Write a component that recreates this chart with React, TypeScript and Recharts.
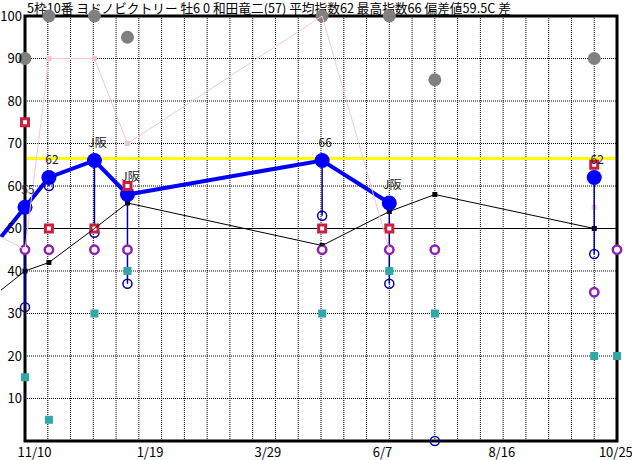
import {
  ComposedChart,
  Line,
  Scatter,
  XAxis,
  YAxis,
  ReferenceLine,
  ReferenceArea,
  ErrorBar,
  LabelList,
} from 'recharts';

const TITLE = '5枠10番 ヨドノビクトリー 牡6 0 和田竜二(57) 平均指数62 最高指数66 偏差値59.5C 差';
const FONT = "'Noto Sans CJK JP', 'Noto Sans', sans-serif";

// race positions on the x axis, in grid columns (one column ~ two weeks)
const raceX = [0, 1.05, 3.05, 4.5, 13.05, 16, 18, 25, 26];

// 指数 (big blue dots) and the text above each one
const indexValues = [55, 62, 66, 58, 66, 56, null, 62, null];
const indexLabels = ['55', '62', 'J阪', 'J阪', '66', 'J阪', null, '62', null];
// bottom of the thin blue bar (open blue circles)
const lowValues = [31.5, 60, 49, 37, 53, 37, 0, 44, null];
const grayValues = [90, 100, 100, 95, 100, 100, 85, 90, null];
const redValues = [75, 50, 50, 60, 50, 50, null, 65, null];
const purpleValues = [45, 45, 45, 45, 45, 45, 45, 35, 45];
const tealValues = [15, 5, 30, 40, 30, 40, 30, 20, 20];
const blackValues = [40, 42, 50, 56, 46, 54, 58, 50, null];
const pinkValues = [45, 90, 90, 70, 100, 45, null, 55, null];

// lines come in from the previous race at the left edge
const EDGE_X = -1.054;
const edgeBlue = 48;
const edgeBlack = 35.5;
const edgePink = 48;

const X_MAX = 26;
const gridX = Array.from({ length: X_MAX - 1 }, (_, i) => i + 1);
const gridY = [10, 20, 30, 40, 60, 70, 80, 90];
const dateTickX = [0.42, 5.49, 10.67, 15.7, 20.94, 25.95];
const dateLabels = ['11/10', '1/19', '3/29', '6/7', '8/16', '10/25'];
const yTicks = [10, 20, 30, 40, 50, 60, 70, 80, 90, 100];
const BASE_LINE = 50;
const TOP_LINE = 66.5;

type Pt = { x: number; y: number | null; edge?: boolean };

const points = (vals: (number | null)[]): Pt[] =>
  raceX.map((x, i) => ({ x, y: vals[i] })).filter((p) => p.y != null);

const withEdge = (edge: number, vals: (number | null)[]): Pt[] => [
  { x: EDGE_X, y: edge, edge: true },
  ...raceX.map((x, i) => ({ x, y: vals[i] })),
];

const indexPoints = raceX
  .map((x, i) => {
    const v = indexValues[i];
    const low = lowValues[i];
    return {
      x,
      y: v,
      label: indexLabels[i],
      err: v != null && low != null ? [v - low, 0] : [0, 0],
    };
  })
  .filter((p) => p.y != null);

const circle = (r: number, fill: string, stroke = 'none', sw = 0) => (p: any) =>
  p.cx == null ? <g /> : <circle cx={p.cx} cy={p.cy} r={r} fill={fill} stroke={stroke} strokeWidth={sw} />;

const square = (size: number, fill: string, stroke = 'none', sw = 0) => (p: any) =>
  p.cx == null || p.cy == null || p.payload?.edge ? (
    <g key={p.key} />
  ) : (
    <rect
      key={p.key}
      x={p.cx - size / 2}
      y={p.cy - size / 2}
      width={size}
      height={size}
      fill={fill}
      stroke={stroke}
      strokeWidth={sw}
    />
  );

const YTick = (p: any) => (
  <text x={p.x + 21} y={p.y} dy="0.35em" textAnchor="end" fontSize={13} fontFamily={FONT} fill="#000">
    {p.payload.value}
  </text>
);

export default function App() {
  return (
    <div style={{ position: 'relative', width: 632, height: 460, fontFamily: FONT }}>
      <style>{'body{margin:0}'}</style>
      <div
        style={{
          position: 'absolute',
          left: 27,
          top: 0,
          fontSize: 12.7,
          lineHeight: '16px',
          whiteSpace: 'pre',
          color: '#000',
        }}
      >
        {TITLE}
      </div>
      <ComposedChart width={632} height={460} margin={{ top: 16, right: 15, bottom: 0, left: 0 }}>
        <XAxis
          type="number"
          dataKey="x"
          domain={[EDGE_X, X_MAX]}
          ticks={dateTickX}
          interval={0}
          tickFormatter={(v: number) => dateLabels[dateTickX.indexOf(v)]}
          axisLine={false}
          tickLine={false}
          tickSize={0}
          tickMargin={7}
          height={19}
          tick={{ fill: '#000', fontSize: 13, fontFamily: FONT }}
        />
        <YAxis
          type="number"
          domain={[0, 100]}
          ticks={yTicks}
          width={1}
          axisLine={false}
          tickLine={false}
          tickSize={0}
          tickMargin={0}
          tick={YTick}
        />
        {gridX.map((x) => (
          <ReferenceLine key={`gx${x}`} x={x} stroke="#000" strokeDasharray="1 1" zIndex={440} />
        ))}
        {gridY.map((y) => (
          <ReferenceLine
            key={`gy${y}`}
            segment={[{ x: 0, y }, { x: X_MAX, y }]}
            stroke="#000"
            strokeDasharray="1 1"
            zIndex={440}
          />
        ))}
        <ReferenceLine
          segment={[{ x: 0, y: BASE_LINE }, { x: X_MAX, y: BASE_LINE }]}
          stroke="#000"
          strokeWidth={1}
          zIndex={460}
        />
        <ReferenceLine
          segment={[{ x: 0, y: TOP_LINE }, { x: X_MAX, y: TOP_LINE }]}
          stroke="#ffff00"
          strokeWidth={3}
          zIndex={470}
        />
        <ReferenceArea x1={0} x2={X_MAX} y1={0} y2={100} fill="none" stroke="#000" strokeWidth={3} zIndex={480} />

        <Scatter data={points(grayValues)} dataKey="y" shape={circle(6.5, '#808080')} isAnimationActive={false} zIndex={610} />
        <Line
          data={withEdge(edgeBlue, indexValues)}
          dataKey="y"
          stroke="#0000ff"
          strokeWidth={4}
          dot={false}
          activeDot={false}
          isAnimationActive={false}
          zIndex={620}
        />
        <Scatter data={indexPoints} dataKey="y" shape={circle(7.5, '#0000ff')} isAnimationActive={false} zIndex={630}>
          <ErrorBar dataKey="err" direction="y" width={0} stroke="#0000aa" strokeWidth={1.5} zIndex={625} />
          <LabelList dataKey="label" position="top" offset={9} dx={3} fill="#222" fontSize={12} fontFamily={FONT} />
        </Scatter>
        <Scatter
          data={points(lowValues)}
          dataKey="y"
          shape={circle(4.5, 'none', '#0000aa', 1.5)}
          isAnimationActive={false}
          zIndex={640}
        />
        <Scatter
          data={points(purpleValues)}
          dataKey="y"
          shape={circle(4.2, '#fff', '#9020b0', 2.5)}
          isAnimationActive={false}
          zIndex={650}
        />
        <Scatter
          data={points(redValues)}
          dataKey="y"
          shape={square(7, '#fff', '#cc1f3f', 3)}
          isAnimationActive={false}
          zIndex={660}
        />
        <Scatter data={points(tealValues)} dataKey="y" shape={square(8, '#30a8a8')} isAnimationActive={false} zIndex={670} />
        <Line
          data={withEdge(edgeBlack, blackValues)}
          dataKey="y"
          stroke="#000"
          strokeWidth={1}
          dot={square(5, '#000')}
          activeDot={false}
          isAnimationActive={false}
          zIndex={680}
        />
        <Line
          data={withEdge(edgePink, pinkValues)}
          dataKey="y"
          stroke="#f5c6cf"
          strokeWidth={1}
          dot={square(5, '#f9c0cc')}
          activeDot={false}
          isAnimationActive={false}
          zIndex={690}
        />
      </ComposedChart>
    </div>
  );
}
